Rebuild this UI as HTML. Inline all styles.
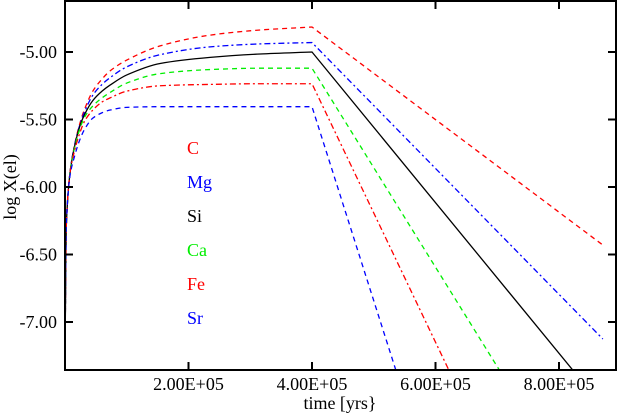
<!DOCTYPE html>
<html><head><meta charset="utf-8"><style>
html,body{margin:0;padding:0;background:#fff;overflow:hidden;width:620px;height:417px}
svg{display:block}
text{font-family:"Liberation Serif",serif;font-size:18px}
</style></head><body>
<svg id="chart" width="620" height="417">
<defs><clipPath id="clip"><rect x="65" y="1" width="551" height="369"/></clipPath></defs>
<g id="series" clip-path="url(#clip)"></g>
<rect x="65" y="1" width="551" height="369" fill="none" stroke="#000" stroke-width="2"/>
<g id="axes"></g>
<text x="16" y="187" transform="rotate(-90 16 187)" text-anchor="middle">log X(el)</text>
<text x="340" y="409" text-anchor="middle">time [yrs}</text>
<g id="legend"></g>
</svg>
<script>
const times=[0,500,2e3,8e3,1.5e4,2.4e4,3.2e4,4.5e4,6e4,7.3e4,1e5,1.54e5,2.35e5,3.16e5,4e5];
const names=["C","Mg","Si","Ca","Fe","Sr"];
const valC=[-9,-7.0,-6.3,-5.9,-5.70,-5.53,-5.42,-5.29,-5.20,-5.14,-5.06,-4.955,-4.875,-4.837,-4.815];
const valMg=[-9,-7.0,-6.3,-5.9,-5.70,-5.54,-5.44,-5.32,-5.24,-5.19,-5.11,-5.02,-4.962,-4.94,-4.93];
const valSi=[-9,-7.0,-6.3,-5.9,-5.71,-5.55,-5.46,-5.36,-5.29,-5.245,-5.17,-5.085,-5.04,-5.015,-5.00];
const valCa=[-9,-7.0,-6.3,-5.9,-5.72,-5.57,-5.48,-5.40,-5.34,-5.30,-5.23,-5.16,-5.13,-5.12,-5.12];
const valFe=[-9,-7.0,-6.3,-5.9,-5.74,-5.60,-5.51,-5.43,-5.37,-5.34,-5.29,-5.25,-5.24,-5.235,-5.235];
const valSr=[-9,-7.0,-6.3,-5.92,-5.78,-5.65,-5.57,-5.49,-5.45,-5.43,-5.41,-5.405,-5.405,-5.405,-5.405];
const endTimes=[8.71e5,8.71e5,8.23e5,7.04e5,6.22e5,5.36e5];
const endVals=[-6.43,-7.126,-7.36,-7.36,-7.36,-7.36];
const xTicks=[2e5,4e5,6e5,8e5];
const xTickLabels=["2.00E+05","4.00E+05","6.00E+05","8.00E+05"];
const yTicks=[-5,-5.5,-6,-6.5,-7];
const yTickLabels=["-5.00","-5.50","-6.00","-6.50","-7.00"];

const NS="http://www.w3.org/2000/svg";
const X=t=>65+t*(123.5/2e5);
const Y=v=>52+(-5-v)*135;
const colors=["#ff0000","#0000ff","#000000","#00ee00","#ff0000","#0000ff"];
const dashes=["5,4","6,3,2,3","","5,4","6,3,2,3","5,4"];
const vals=[valC,valMg,valSi,valCa,valFe,valSr];
const sg=document.getElementById("series");
function smoothPath(pts){
  const n=pts.length,dx=[],s=[],m=[];
  for(let i=0;i<n-1;i++){dx[i]=pts[i+1][0]-pts[i][0];s[i]=(pts[i+1][1]-pts[i][1])/dx[i];}
  m[0]=s[0];m[n-1]=s[n-2];
  for(let i=1;i<n-1;i++){m[i]=(s[i-1]*s[i]<=0)?0:2/(1/s[i-1]+1/s[i]);}
  let d="M"+pts[0][0].toFixed(2)+","+pts[0][1].toFixed(2);
  for(let i=0;i<n-1;i++){
    const h=dx[i]/3;
    d+=" C"+(pts[i][0]+h).toFixed(2)+","+(pts[i][1]+m[i]*h).toFixed(2)+" "+(pts[i+1][0]-h).toFixed(2)+","+(pts[i+1][1]-m[i+1]*h).toFixed(2)+" "+pts[i+1][0].toFixed(2)+","+pts[i+1][1].toFixed(2);
  }
  return d;
}
vals.forEach((arr,i)=>{
  const pts=times.map((t,j)=>[X(t),Y(arr[j])]);
  let d=smoothPath(pts);
  d+=" L"+X(endTimes[i]).toFixed(2)+","+Y(endVals[i]).toFixed(2);
  const p=document.createElementNS(NS,"path");
  p.setAttribute("d",d);
  p.setAttribute("fill","none");
  p.setAttribute("stroke",colors[i]);
  p.setAttribute("stroke-width","1.3");
  if(dashes[i])p.setAttribute("stroke-dasharray",dashes[i]);
  
  
  sg.appendChild(p);
});
const ag=document.getElementById("axes");
function line(x1,y1,x2,y2){const l=document.createElementNS(NS,"line");
l.setAttribute("x1",x1);l.setAttribute("y1",y1);l.setAttribute("x2",x2);l.setAttribute("y2",y2);
l.setAttribute("stroke","#000");l.setAttribute("stroke-width","2");return l;}
xTicks.forEach((t,i)=>{
  const x=X(t);
  const a=line(x,370,x,362);
  
  
  ag.appendChild(a);
  const b=line(x,1,x,9);
  
  
  ag.appendChild(b);
  const tx=document.createElementNS(NS,"text");
  tx.setAttribute("x",x);tx.setAttribute("y",390);tx.setAttribute("text-anchor","middle");
  tx.textContent=xTickLabels[i];
  
  
  ag.appendChild(tx);
});
yTicks.forEach((v,i)=>{
  const y=Y(v);
  const a=line(65,y,73,y);
  
  
  ag.appendChild(a);
  const b=line(616,y,608,y);
  
  
  ag.appendChild(b);
  const tx=document.createElementNS(NS,"text");
  tx.setAttribute("x",57);tx.setAttribute("y",y+6);tx.setAttribute("text-anchor","end");
  tx.textContent=yTickLabels[i];
  
  
  ag.appendChild(tx);
});
const lg=document.getElementById("legend");
const legendColors=["#ff0000","#0000ff","#000000","#00ee00","#ff0000","#0000ff"];
names.forEach((n,i)=>{
  const tx=document.createElementNS(NS,"text");
  tx.setAttribute("x",187);tx.setAttribute("y",154+i*34);tx.setAttribute("text-anchor","start");
  tx.setAttribute("fill",legendColors[i]);
  tx.textContent=n;
  
  
  lg.appendChild(tx);
});
</script>
</body></html>
